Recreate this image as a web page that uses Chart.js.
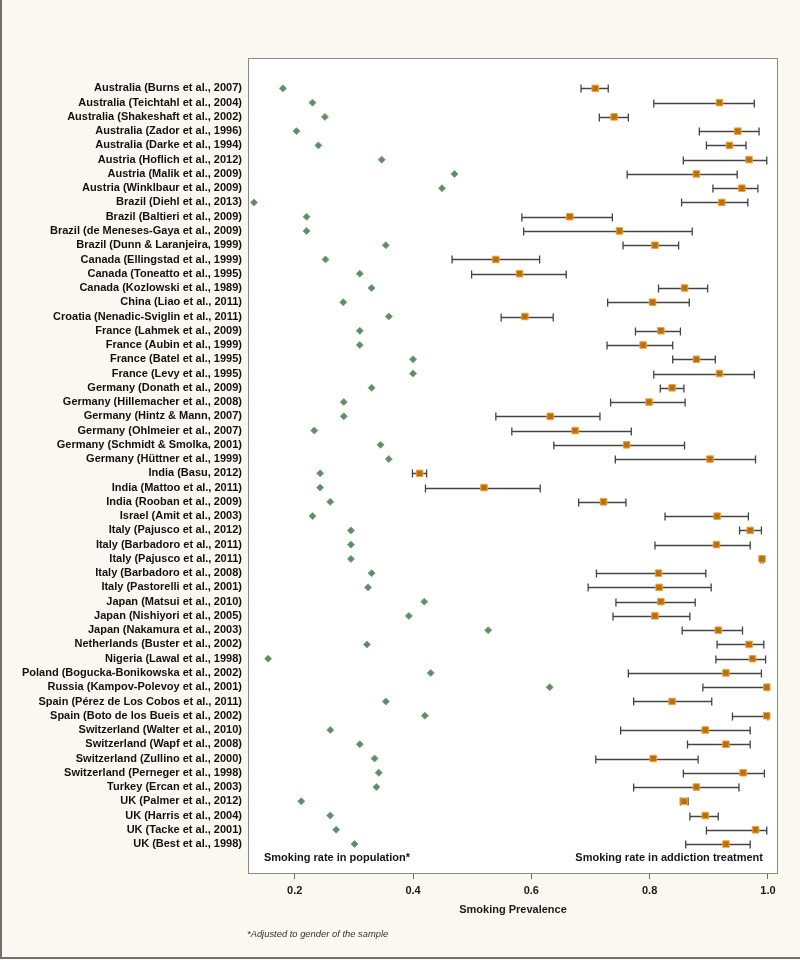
<!DOCTYPE html>
<html>
<head>
<meta charset="utf-8">
<script src="https://cdn.jsdelivr.net/npm/chart.js@4.4.1/dist/chart.umd.min.js"></script>
<style>
  html, body { margin: 0; padding: 0; background: #faf8f1; }
  #wrap { width: 800px; height: 960px; }
</style>
</head>
<body>
<div id="wrap"><canvas id="chart" width="800" height="960"></canvas></div>
<script>
// --- data -------------------------------------------------------------------
const studies = [
  'Australia (Burns et al., 2007)', 'Australia (Teichtahl et al., 2004)', 'Australia (Shakeshaft et al., 2002)',
  'Australia (Zador et al., 1996)', 'Australia (Darke et al., 1994)', 'Austria (Hoflich et al., 2012)',
  'Austria (Malik et al., 2009)', 'Austria (Winklbaur et al., 2009)', 'Brazil (Diehl et al., 2013)',
  'Brazil (Baltieri et al., 2009)', 'Brazil (de Meneses-Gaya et al., 2009)', 'Brazil (Dunn & Laranjeira, 1999)',
  'Canada (Ellingstad et al., 1999)', 'Canada (Toneatto et al., 1995)', 'Canada (Kozlowski et al., 1989)',
  'China (Liao et al., 2011)', 'Croatia (Nenadic-Sviglin et al., 2011)', 'France (Lahmek et al., 2009)',
  'France (Aubin et al., 1999)', 'France (Batel et al., 1995)', 'France (Levy et al., 1995)',
  'Germany (Donath et al., 2009)', 'Germany (Hillemacher et al., 2008)', 'Germany (Hintz & Mann, 2007)',
  'Germany (Ohlmeier et al., 2007)', 'Germany (Schmidt & Smolka, 2001)', 'Germany (Hüttner et al., 1999)',
  'India (Basu, 2012)', 'India (Mattoo et al., 2011)', 'India (Rooban et al., 2009)',
  'Israel (Amit et al., 2003)', 'Italy (Pajusco et al., 2012)', 'Italy (Barbadoro et al., 2011)',
  'Italy (Pajusco et al., 2011)', 'Italy (Barbadoro et al., 2008)', 'Italy (Pastorelli et al., 2001)',
  'Japan (Matsui et al., 2010)', 'Japan (Nishiyori et al., 2005)', 'Japan (Nakamura et al., 2003)',
  'Netherlands (Buster et al., 2002)', 'Nigeria (Lawal et al., 1998)', 'Poland (Bogucka-Bonikowska et al., 2002)',
  'Russia (Kampov-Polevoy et al., 2001)', 'Spain (Pérez de Los Cobos et al., 2011)', 'Spain (Boto de los Bueis et al., 2002)',
  'Switzerland (Walter et al., 2010)', 'Switzerland (Wapf et al., 2008)', 'Switzerland (Zullino et al., 2000)',
  'Switzerland (Perneger et al., 1998)', 'Turkey (Ercan et al., 2003)', 'UK (Palmer et al., 2012)',
  'UK (Harris et al., 2004)', 'UK (Tacke et al., 2001)', 'UK (Best et al., 1998)'
];

// smoking rate in the general population (gender adjusted)
const populationRate = [
  0.180, 0.230, 0.251, 0.203, 0.240, 0.347, 0.470, 0.449, 0.131, 0.220, 0.220, 0.354,
  0.252, 0.310, 0.330, 0.282, 0.359, 0.310, 0.310, 0.400, 0.400,
  0.330, 0.283, 0.283, 0.233, 0.345, 0.359,
  0.243, 0.243, 0.260, 0.230, 0.295, 0.295, 0.295, 0.330, 0.324,
  0.419, 0.393, 0.527, 0.322, 0.155, 0.430, 0.631, 0.354, 0.420,
  0.260, 0.310, 0.335, 0.342, 0.338, 0.211, 0.260, 0.270, 0.301
];

// smoking rate in addiction treatment, with its interval
const treatmentRate = [
  0.708, 0.918, 0.740, 0.949, 0.935, 0.968, 0.879, 0.956, 0.922, 0.665, 0.749, 0.809,
  0.540, 0.580, 0.859, 0.805, 0.589, 0.819, 0.789, 0.879, 0.918,
  0.838, 0.799, 0.632, 0.674, 0.761, 0.902,
  0.411, 0.520, 0.722, 0.914, 0.970, 0.913, 0.990, 0.815, 0.816,
  0.819, 0.809, 0.916, 0.968, 0.974, 0.929, 0.998, 0.838, 0.998,
  0.894, 0.929, 0.806, 0.958, 0.879, 0.858, 0.894, 0.979, 0.929
];
const treatmentLow = [
  0.684, 0.807, 0.715, 0.884, 0.896, 0.857, 0.762, 0.907, 0.854, 0.584, 0.587, 0.755,
  0.466, 0.499, 0.815, 0.729, 0.549, 0.776, 0.728, 0.839, 0.807,
  0.818, 0.734, 0.540, 0.567, 0.638, 0.742,
  0.399, 0.421, 0.680, 0.826, 0.952, 0.809, 0.988, 0.710, 0.696,
  0.743, 0.738, 0.855, 0.914, 0.912, 0.764, 0.890, 0.773, 0.940,
  0.751, 0.864, 0.709, 0.857, 0.773, 0.852, 0.868, 0.896, 0.861
];
const treatmentHigh = [
  0.730, 0.977, 0.764, 0.985, 0.963, 0.998, 0.948, 0.983, 0.966, 0.737, 0.872, 0.849,
  0.614, 0.659, 0.898, 0.867, 0.637, 0.852, 0.839, 0.911, 0.977,
  0.858, 0.860, 0.716, 0.769, 0.859, 0.979,
  0.423, 0.615, 0.760, 0.967, 0.989, 0.970, 0.992, 0.895, 0.904,
  0.877, 0.868, 0.957, 0.993, 0.996, 0.989, 1.000, 0.905, 1.000,
  0.970, 0.970, 0.882, 0.994, 0.951, 0.865, 0.916, 0.998, 0.970
];

const xTickValues = [0.2, 0.4, 0.6, 0.8, 1.0];

// --- drawing ---------------------------------------------------------------
const FONT = '"Liberation Sans", Arial, Helvetica, sans-serif';
const PAGE = '#faf8f1';

const framePlugin = {
  id: 'frame',
  beforeDraw(chart) {
    const { ctx, chartArea: a, width, height } = chart;
    ctx.save();
    ctx.fillStyle = PAGE;
    ctx.fillRect(0, 0, width, height);
    ctx.fillStyle = '#ffffff';
    ctx.fillRect(a.left, a.top, a.right - a.left, a.bottom - a.top);
    // page edge, left and bottom
    ctx.strokeStyle = '#707070';
    ctx.lineWidth = 2;
    ctx.beginPath();
    ctx.moveTo(1, 0); ctx.lineTo(1, height - 2); ctx.lineTo(width, height - 2);
    ctx.stroke();
    ctx.restore();
  },
  // interval whiskers under the markers
  beforeDatasetsDraw(chart) {
    const { ctx, scales: { x, y } } = chart;
    ctx.save();
    ctx.strokeStyle = '#444444';
    ctx.lineWidth = 1.3;
    treatmentLow.forEach((lo, i) => {
      const py = Math.round(y.getPixelForValue(i)) + 0.5;
      const x0 = x.getPixelForValue(lo), x1 = x.getPixelForValue(treatmentHigh[i]);
      ctx.beginPath();
      ctx.moveTo(x0, py); ctx.lineTo(x1, py);
      ctx.moveTo(x0, py - 4); ctx.lineTo(x0, py + 4);
      ctx.moveTo(x1, py - 4); ctx.lineTo(x1, py + 4);
      ctx.stroke();
    });
    ctx.restore();
  },
  afterDraw(chart) {
    const { ctx, chartArea: a, scales: { y } } = chart;
    ctx.save();
    ctx.strokeStyle = '#8a8a8a';
    ctx.lineWidth = 1;
    ctx.strokeRect(Math.round(a.left) + 0.5, Math.round(a.top) + 0.5,
                   Math.round(a.right - a.left) - 1, Math.round(a.bottom - a.top) - 1);

    const ty = y.getPixelForValue(studies.length);
    ctx.fillStyle = '#151515';
    ctx.font = 'bold 11px ' + FONT;
    ctx.textBaseline = 'middle';
    ctx.textAlign = 'left';
    ctx.fillText('Smoking rate in population*', a.left + 16, ty);
    ctx.textAlign = 'right';
    ctx.fillText('Smoking rate in addiction treatment', a.right - 15, ty);

    ctx.font = 'italic 9.4px ' + FONT;
    ctx.fillStyle = '#333333';
    ctx.textAlign = 'left';
    ctx.fillText('*Adjusted to gender of the sample', 247, 934);
    ctx.restore();
  }
};

new Chart(document.getElementById('chart'), {
  type: 'scatter',
  data: {
    datasets: [
      {
        label: 'Smoking rate in population*',
        data: populationRate.map((v, i) => ({ x: v, y: i })),
        pointStyle: 'rectRot', pointRadius: 3.5,
        backgroundColor: '#5f8c65', borderColor: '#7ea582', borderWidth: 1,
      },
      {
        label: 'Smoking rate in addiction treatment',
        data: treatmentRate.map((v, i) => ({ x: v, y: i })),
        pointStyle: 'rect', pointRadius: 4.6,
        backgroundColor: '#bd6e0a', borderColor: '#eba43c', borderWidth: 1,
      },
    ],
  },
  options: {
    responsive: false,
    animation: false,
    events: [],
    layout: { padding: { top: 58, right: 22, bottom: 0, left: 0 } },
    plugins: { legend: { display: false }, tooltip: { enabled: false } },
    scales: {
      x: {
        type: 'linear', min: 0.121, max: 1.017,
        afterBuildTicks: (s) => { s.ticks = xTickValues.map(v => ({ value: v })); },
        afterFit: (s) => { s.height = 86; },
        border: { display: false },
        grid: { drawOnChartArea: false, drawTicks: true, tickLength: 5, color: '#6a6a6a' },
        ticks: {
          color: '#1a1a1a', padding: 5, maxRotation: 0,
          font: { family: FONT, size: 11, weight: 'bold' },
          callback: (v) => Number(v).toFixed(1),
        },
        title: {
          display: true, text: 'Smoking Prevalence', color: '#1a1a1a',
          font: { family: FONT, size: 11, weight: 'bold' },
          padding: { top: 0, bottom: 43 },
        },
      },
      y: {
        type: 'linear', reverse: true, min: -2.13, max: 55.1,
        afterBuildTicks: (s) => { s.ticks = studies.map((_, i) => ({ value: i })); },
        afterFit: (s) => { s.width = 248; },
        border: { display: false },
        grid: { display: false, drawTicks: false },
        ticks: {
          autoSkip: false, padding: 6, color: '#111111',
          font: { family: FONT, size: 11, weight: 'bold' },
          callback: (v) => studies[v],
        },
      },
    },
  },
  plugins: [framePlugin],
});
</script>
</body>
</html>
